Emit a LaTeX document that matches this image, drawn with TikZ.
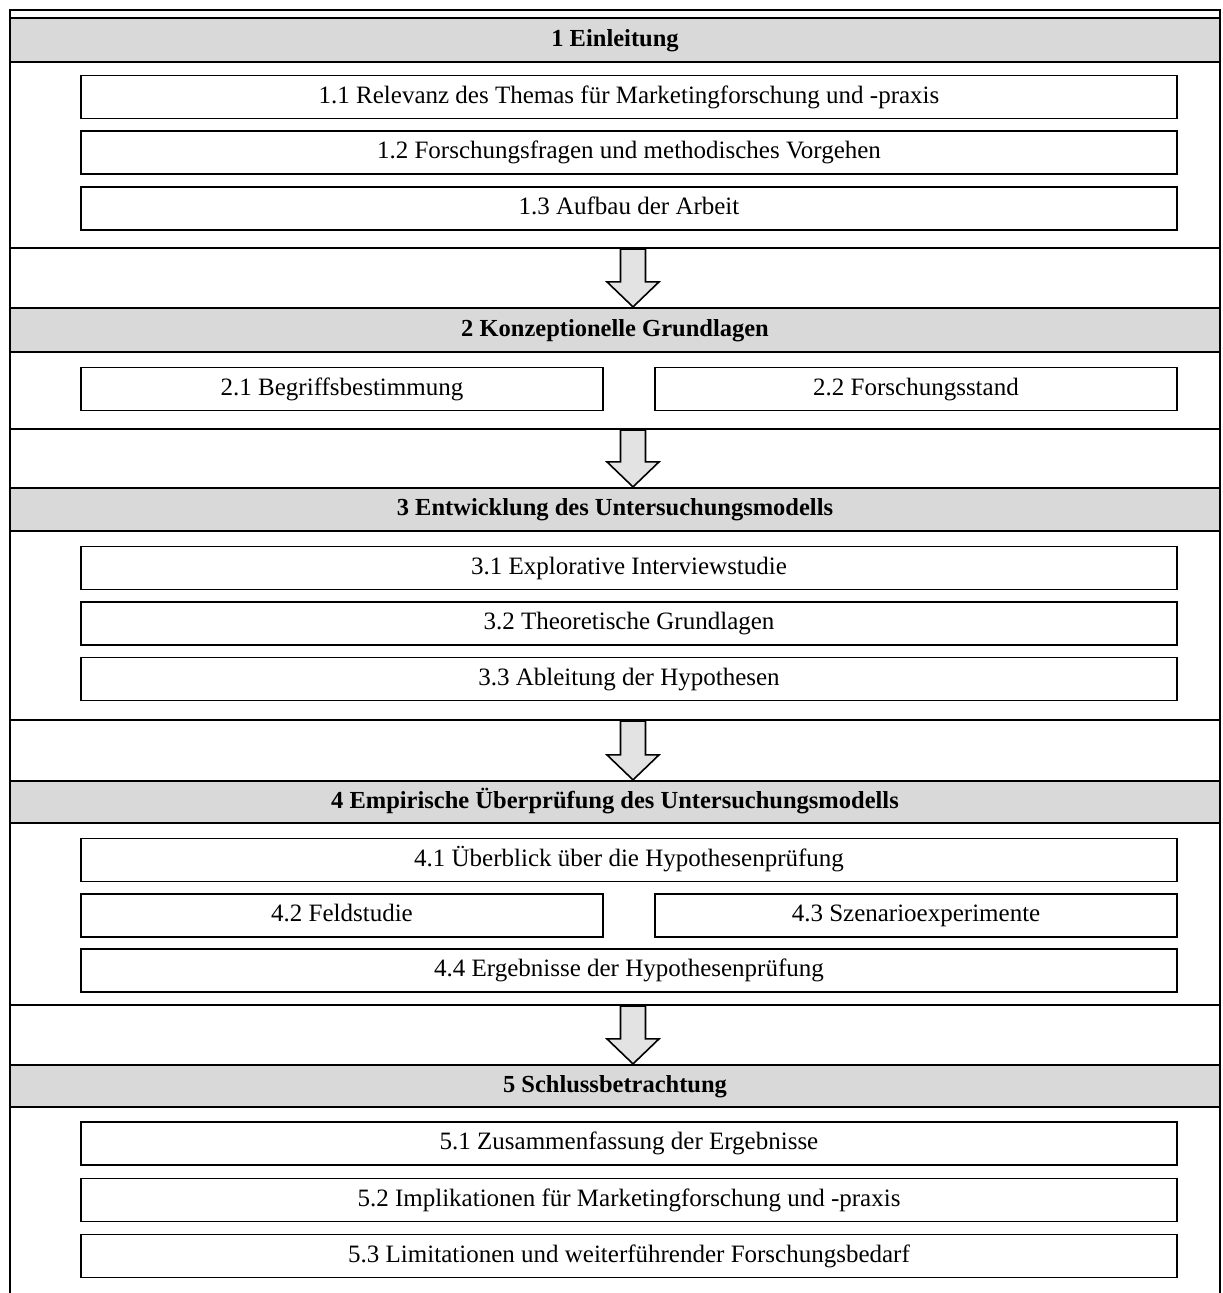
\documentclass[tikz,border=0pt]{standalone}
\usepackage{fontspec}
\setmainfont{Liberation Serif}
\usetikzlibrary{calc}

\definecolor{headgray}{HTML}{D9D9D9}
\definecolor{arrowgray}{HTML}{E3E3E3}

% block arrow from the bottom of one chapter body to the top of the next header
\newcommand\chapterarrow[2]{%
  \draw[flowarrow] let \p1=($(#1.south)+(18,0)$), \p2=($(#2.north)+(18,0)$) in
    (\x1-12.5pt,\y1) -- (\x1-12.5pt,\y2+25pt) -- (\x1-26pt,\y2+25pt) --
    (\x2,\y2) -- (\x1+26pt,\y2+25pt) -- (\x1+12.5pt,\y2+25pt) --
    (\x1+12.5pt,\y1) -- cycle;}

\begin{document}
\begin{tikzpicture}[x=1pt,y=-1pt,
  txt/.style={font=\fontsize{25}{29}\selectfont, text=black,
    text height=17pt, text depth=5pt},
  chapterbody/.style={draw, line width=2.2pt, fill=white, minimum width=1210pt, inner sep=0pt},
  chapterhead/.style={draw, line width=2.2pt, fill=headgray, minimum width=1210pt,
    minimum height=44pt, inner sep=0pt, txt, font=\fontsize{24.5}{29}\selectfont\bfseries},
  sectbox/.style={draw, line width=1.6pt, fill=white, minimum width=1096pt,
    minimum height=43pt, inner sep=0pt, txt},
  halfbox/.style={sectbox, minimum width=522pt},
  flowarrow/.style={draw, line width=1.6pt, fill=arrowgray, line join=miter}
]
\useasboundingbox (0,0) rectangle (1223,1293);
\clip (0,0) rectangle (1223,1293);

% outer frame, open at the bottom
\draw[line width=2pt] (10,1300) -- (10,10) -- (1220,10) -- (1220,1300);

% chapter 1
\node[chapterbody, minimum height=186pt] (b1) at (615,155) {};
\node[chapterhead] (h1) at (615,40) {1 Einleitung};
\node[sectbox] (s11) at (629,97) {1.1 Relevanz des Themas für Marketingforschung und -praxis};
\node[sectbox] (s12) at (629,152.5) {1.2 Forschungsfragen und methodisches Vorgehen};
\node[sectbox] (s13) at (629,208.5) {1.3 Aufbau der Arbeit};

% chapter 2
\node[chapterbody, minimum height=77pt] (b2) at (615,390.5) {};
\node[chapterhead] (h2) at (615,330) {2 Konzeptionelle Grundlagen};
\node[halfbox] (s21) at (342,389) {2.1 Begriffsbestimmung};
\node[halfbox] (s22) at (916,389) {2.2 Forschungsstand};

% chapter 3
\node[chapterbody, minimum height=189pt] (b3) at (615,625.5) {};
\node[chapterhead, minimum height=43pt] (h3) at (615,509.5) {3 Entwicklung des Untersuchungsmodells};
\node[sectbox] (s31) at (629,568) {3.1 Explorative Interviewstudie};
\node[sectbox] (s32) at (629,623.5) {3.2 Theoretische Grundlagen};
\node[sectbox] (s33) at (629,679) {3.3 Ableitung der Hypothesen};

% chapter 4
\node[chapterbody, minimum height=182pt] (b4) at (615,914) {};
\node[chapterhead, minimum height=42pt] (h4) at (615,802) {4 Empirische Überprüfung des Untersuchungsmodells};
\node[sectbox] (s41) at (629,860) {4.1 Überblick über die Hypothesenprüfung};
\node[halfbox] (s42) at (342,915.5) {4.2 Feldstudie};
\node[halfbox] (s43) at (916,915.5) {4.3 Szenarioexperimente};
\node[sectbox] (s44) at (629,970.5) {4.4 Ergebnisse der Hypothesenprüfung};

% chapter 5 (runs on below the page edge)
\node[chapterbody, minimum height=220pt] (b5) at (615,1217) {};
\node[chapterhead, minimum height=42pt] (h5) at (615,1086) {5 Schlussbetrachtung};
\node[sectbox] (s51) at (629,1143.5) {5.1 Zusammenfassung der Ergebnisse};
\node[sectbox] (s52) at (629,1200) {5.2 Implikationen für Marketingforschung und -praxis};
\node[sectbox] (s53) at (629,1256) {5.3 Limitationen und weiterführender Forschungsbedarf};

% arrows between chapters
\chapterarrow{b1}{h2}
\chapterarrow{b2}{h3}
\chapterarrow{b3}{h4}
\chapterarrow{b4}{h5}
\end{tikzpicture}
\end{document}
